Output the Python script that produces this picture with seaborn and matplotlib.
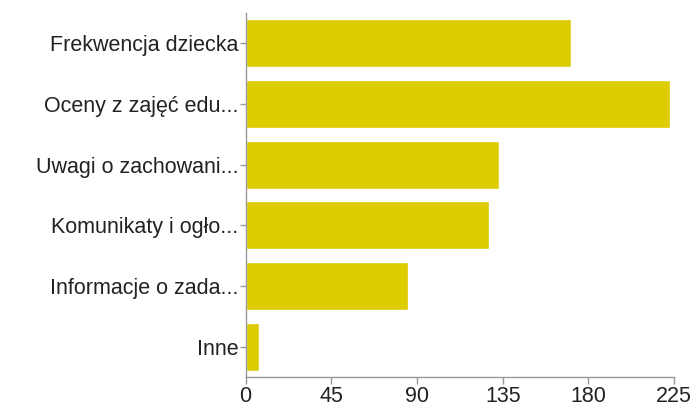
import matplotlib
matplotlib.use('Agg')
import matplotlib.pyplot as plt
import seaborn as sns
import pandas as pd

categories = ['Frekwencja dziecka', 'Oceny z zajęć edu...', 'Uwagi o zachowani...',
              'Komunikaty i ogło...', 'Informacje o zada...', 'Inne']
counts = [171, 223, 133, 128, 85, 7]
xticks = [0, 45, 90, 135, 180, 225]

df = pd.DataFrame({'category': categories, 'count': counts})

sns.set_style('white')
plt.rcParams['font.family'] = ['Liberation Sans', 'DejaVu Sans']

fig = plt.figure(figsize=(6.95, 4.08), dpi=100)
ax = fig.add_axes([0.3535, 0.076, 0.6165, 0.892])

sns.barplot(data=df, x='count', y='category', orient='h', color='#DDCC00',
            saturation=1, width=0.79, ax=ax)

ax.set_xlim(0, 225)
ax.set_ylim(5.5, -0.5)
ax.set_xticks(xticks)
ax.set_xlabel('')
ax.set_ylabel('')
for s in ['top', 'right']:
    ax.spines[s].set_visible(False)
for s in ['left', 'bottom']:
    ax.spines[s].set_color('#999999')
    ax.spines[s].set_linewidth(1)
ax.tick_params(axis='both', which='both', width=1, color='#999999',
               labelsize=15.5, labelcolor='#222222')
ax.tick_params(axis='x', bottom=True, length=5, pad=1.5)
ax.tick_params(axis='y', left=True, length=4, pad=1)

plt.savefig('out.png', dpi=100)
plt.close()
